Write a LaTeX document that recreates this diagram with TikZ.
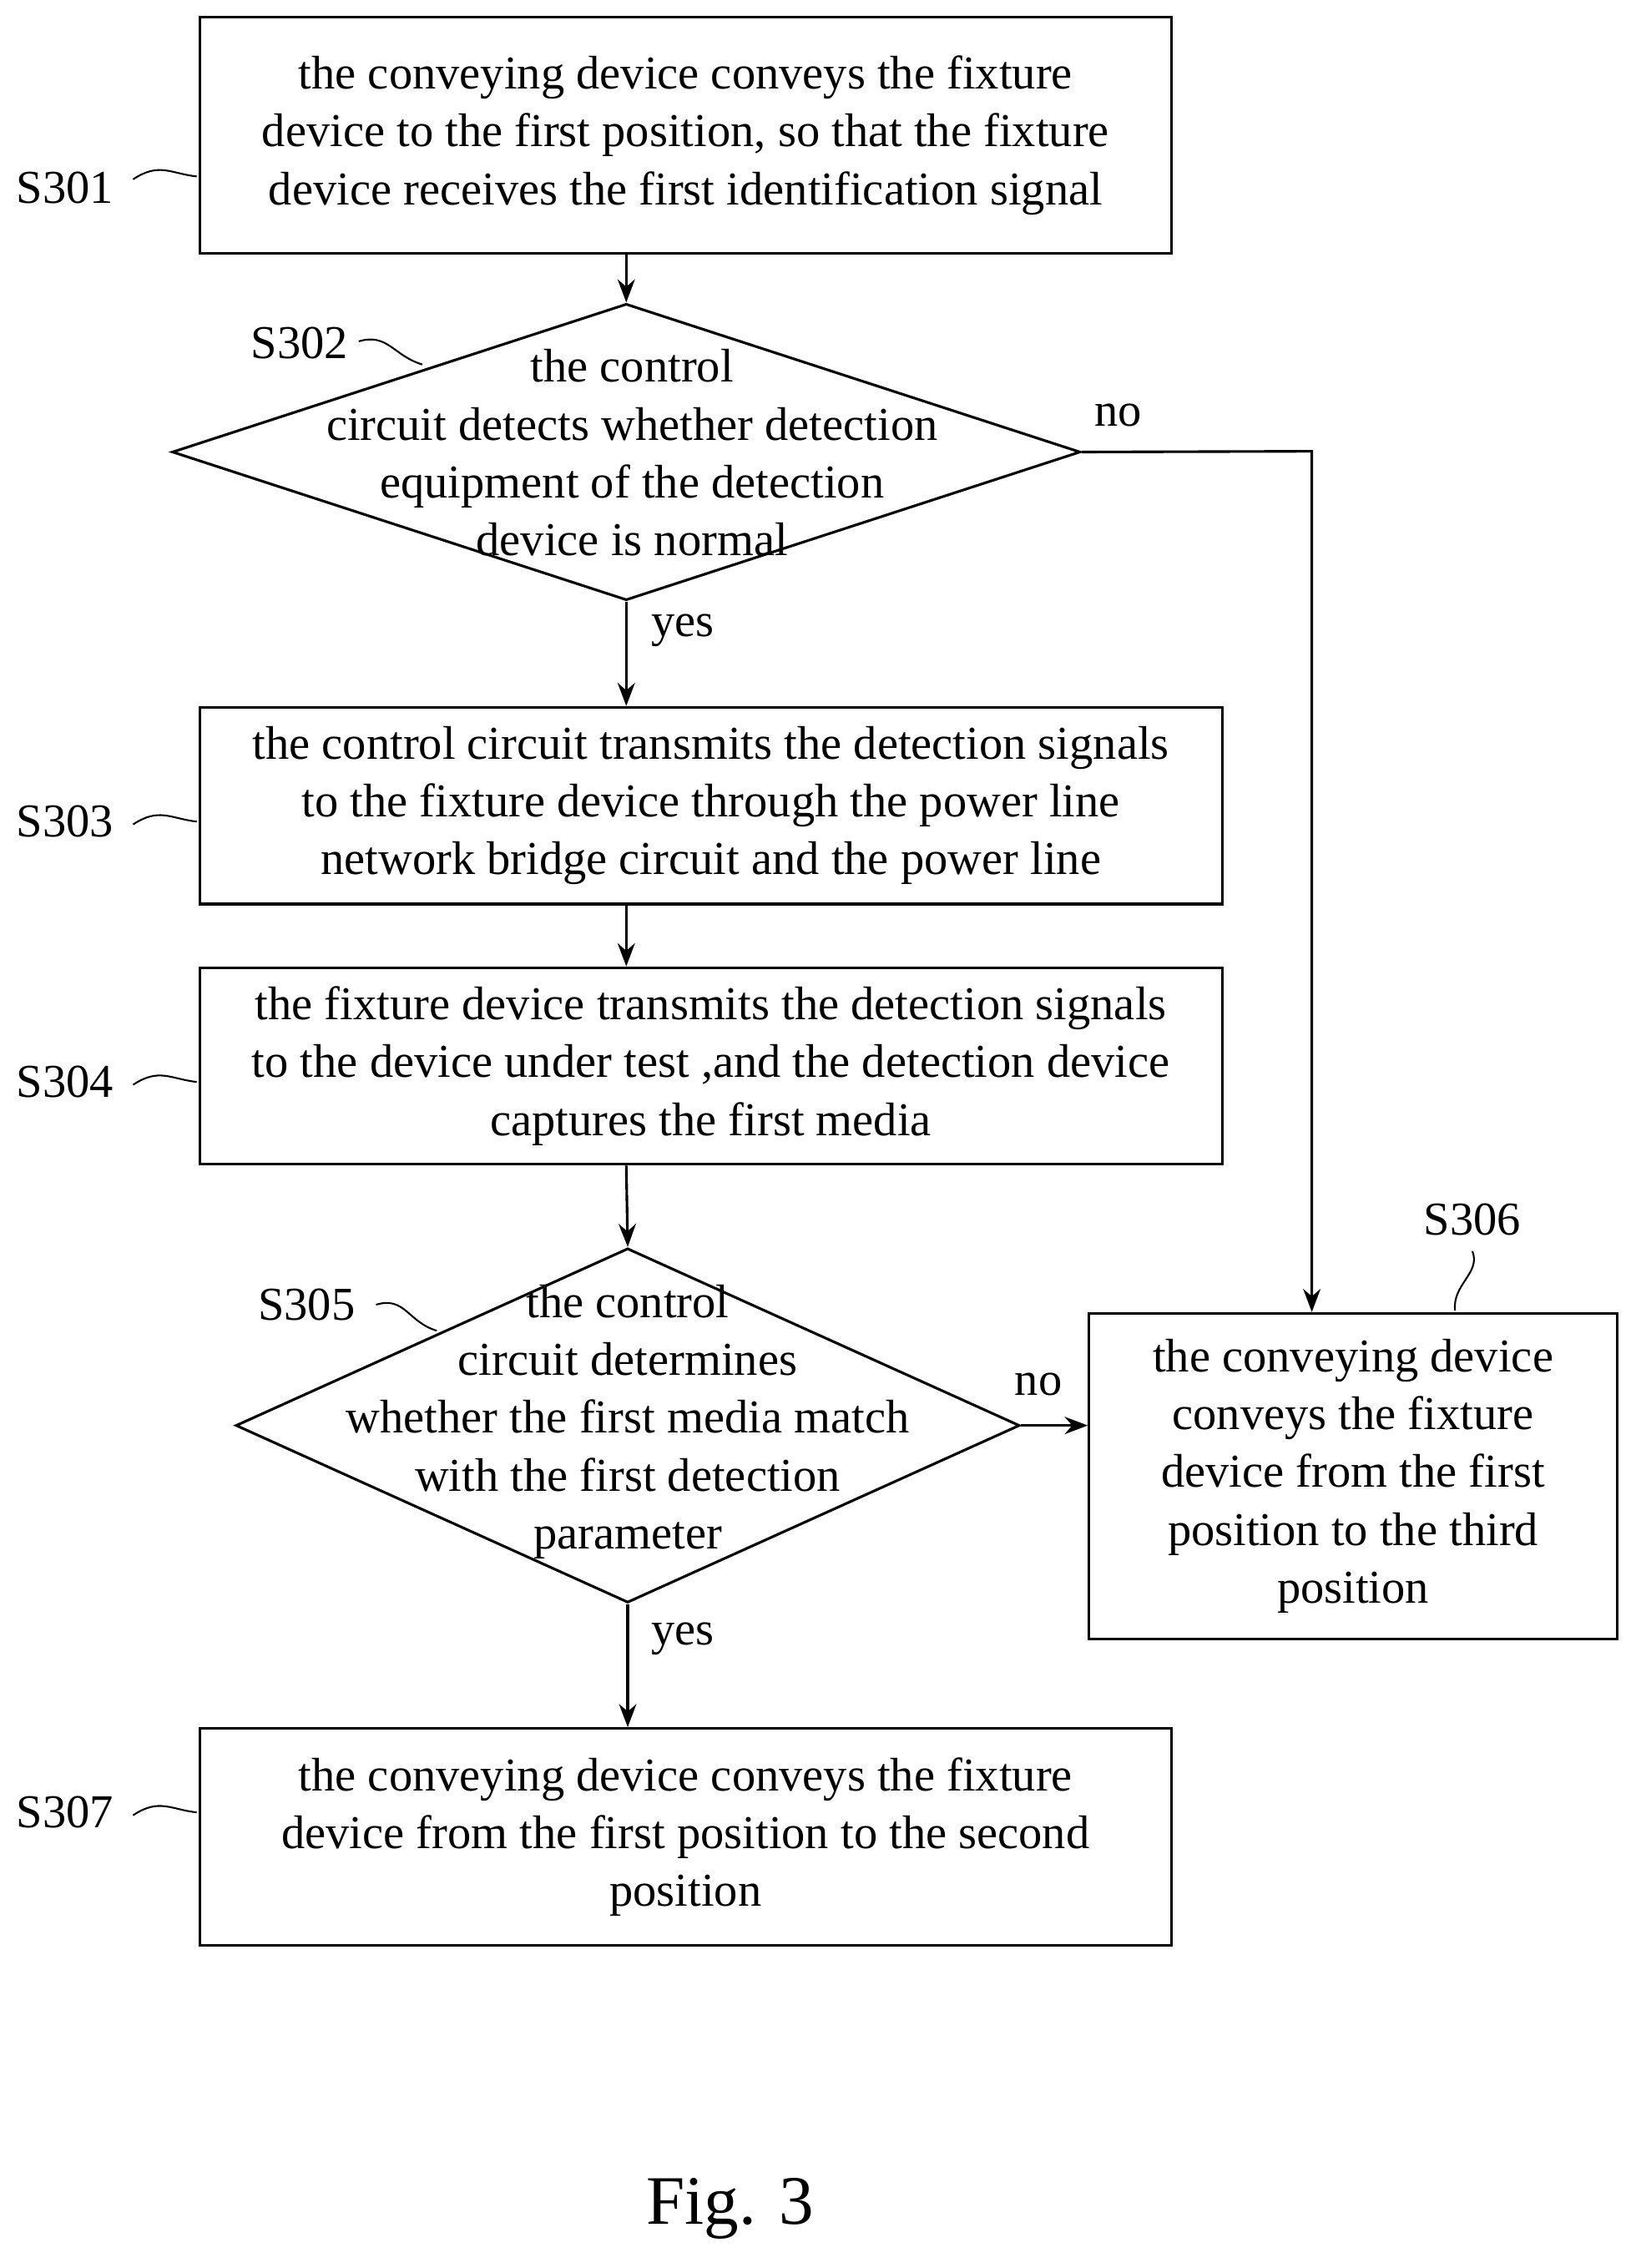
\documentclass[tikz,border=0pt]{standalone}
\usepackage{fontspec}
\setmainfont{Liberation Serif}
\usetikzlibrary{shapes.geometric,arrows.meta}
\begin{document}
\begin{tikzpicture}[x=0.5pt,y=-0.5pt,
  every node/.style={font=\fontsize{16.3}{20}\selectfont},
  box/.style={draw,line width=0.9pt,align=center,inner sep=0},
  dia/.style={draw,line width=0.9pt,diamond,inner sep=0},
  txt/.style={align=center,inner sep=0},
  arr/.style={line width=0.9pt,-{Stealth[length=8pt,width=6pt]}},
  wv/.style={line width=0.6pt}]
\useasboundingbox (0,0) rectangle (1131,1568);
\node[box,minimum width=336pt,minimum height=81.5pt] (b1) at (474,93.5) {the conveying device conveys the fixture\\device to the first position, so that the fixture\\device receives the first identification signal};
\node[dia,minimum width=314pt,minimum height=102.5pt] (d2) at (433,312.5) {};
\node[txt] (t2) at (437,313) {the control\\circuit detects whether detection\\equipment of the detection\\device is normal};
\node[box,minimum width=353.5pt,minimum height=68pt] (b3) at (491.5,557) {the control circuit transmits the detection signals\\to the fixture device through the power line\\network bridge circuit and the power line};
\node[box,minimum width=353.5pt,minimum height=68pt] (b4) at (491.5,737) {the fixture device transmits the detection signals\\to the device under test ,and the detection device\\captures the first media};
\node[dia,minimum width=271pt,minimum height=122.5pt] (d5) at (434,985.5) {};
\node[txt] (t5) at (434,983) {the control\\circuit determines\\whether the first media match\\with the first detection\\parameter};
\node[box,minimum width=182.5pt,minimum height=112.5pt] (b6) at (935.5,1020.5) {the conveying device\\conveys the fixture\\device from the first\\position to the third\\position};
\node[box,minimum width=336pt,minimum height=75pt] (b7) at (474,1270) {the conveying device conveys the fixture\\device from the first position to the second\\position};
\node (l1) at (45,130) {S301};
\node (l2) at (207,237) {S302};
\node (l3) at (45,568) {S303};
\node (l4) at (45,748) {S304};
\node (l5) at (212,902) {S305};
\node (l6) at (1018,843) {S306};
\node (l7) at (45,1253) {S307};
\node[font=\fontsize{24}{28}\selectfont] (fig) at (505,1527) {Fig. 3};
\node (yes1) at (472,436) {yes};
\node (no1) at (773,287) {no};
\node (no2) at (718,957) {no};
\node (yes2) at (472,1133) {yes};
\coordinate (c1) at (907,312);
\draw[wv] (92,124) .. controls (110,112) and (118,120) .. (136,122);
\draw[wv] (248,236) .. controls (268,230) and (272,246) .. (292,252);
\draw[wv] (92,570) .. controls (110,558) and (118,566) .. (136,568);
\draw[wv] (92,750) .. controls (110,738) and (118,746) .. (136,748);
\draw[wv] (260,902) .. controls (280,896) and (282,914) .. (302,920);
\draw[wv] (1018,865) .. controls (1024,880) and (1004,888) .. (1006,906);
\draw[wv] (92,1255) .. controls (110,1243) and (118,1251) .. (136,1253);
\draw[arr] (b1.south -| d2.north) -- (d2.north);
\draw[arr] (d2.south) -- (d2.south |- b3.north);
\draw[arr] (d2.south |- b3.south) -- (d2.south |- b4.north);
\draw[arr] (d2.south |- b4.south) -- (d5.north);
\draw[arr] (d5.east) -- (b6.west |- d5.east);
\draw[arr] (d5.south) -- (d5.south |- b7.north);
\draw[arr] (d2.east) -- (c1) -- (c1 |- b6.north);
\end{tikzpicture}
\end{document}
